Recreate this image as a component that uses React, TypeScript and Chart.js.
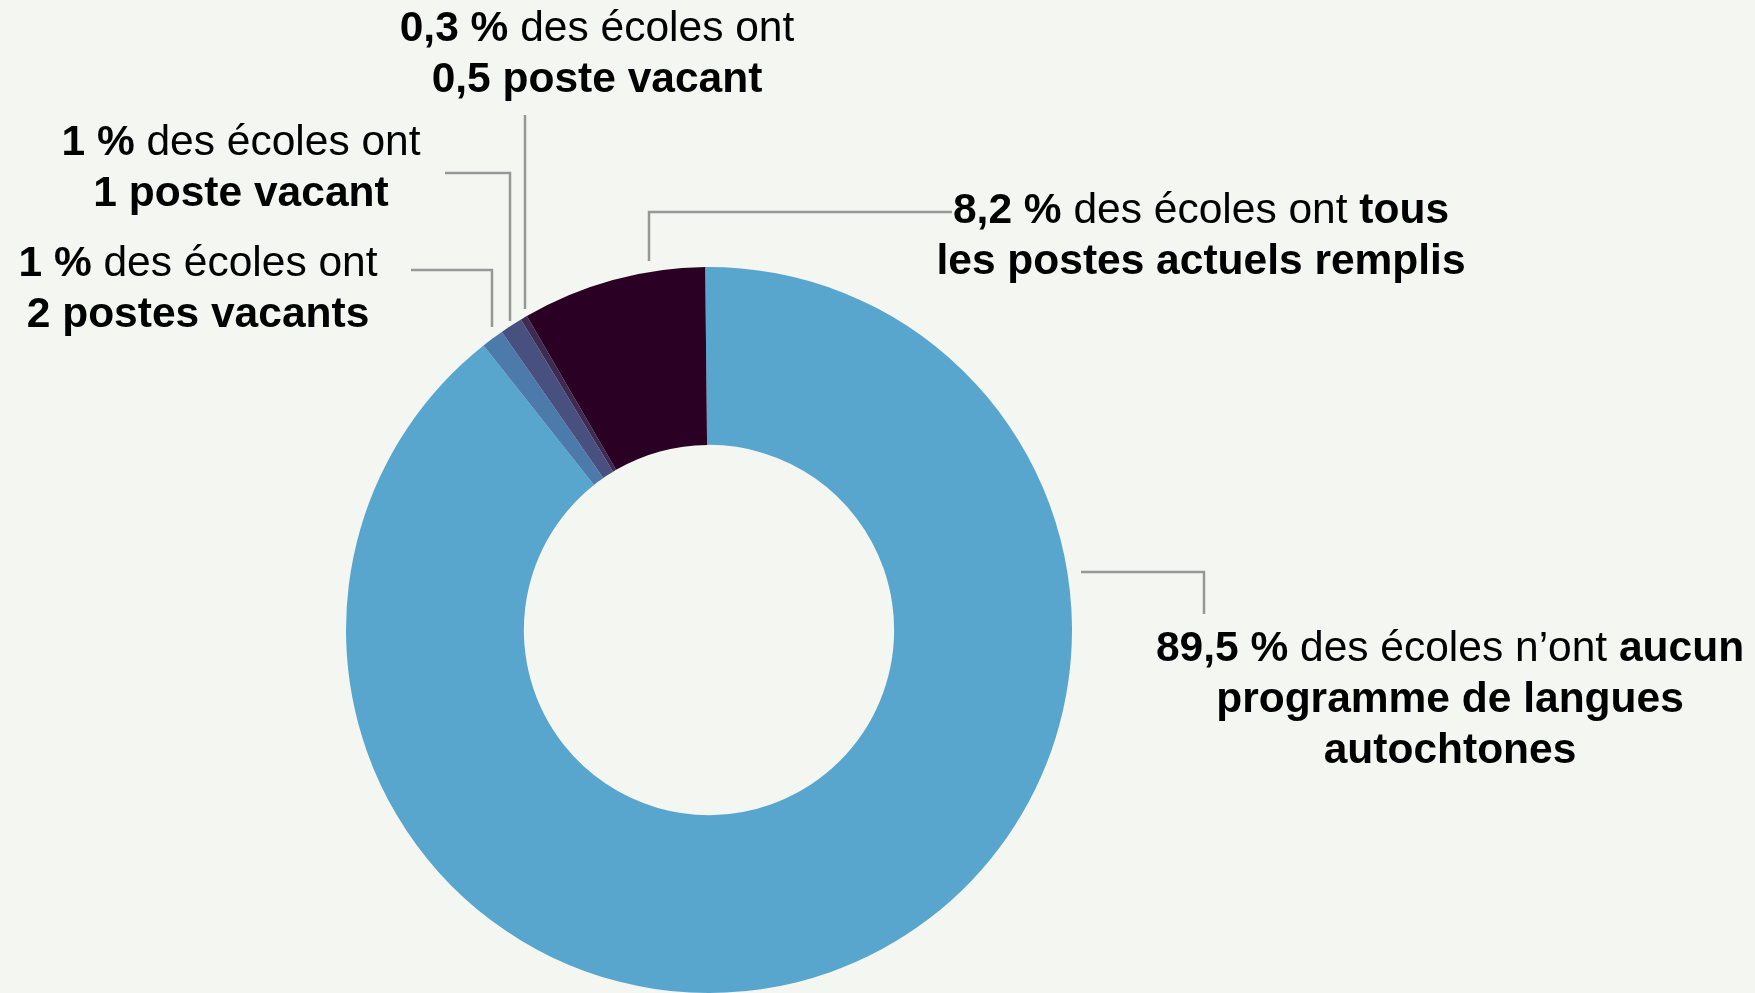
import React, { useEffect, useRef } from "react";
import { Chart, registerables } from "chart.js";

Chart.register(...registerables);

// ---- Data ----
const categories = [
  "Aucun programme de langues autochtones",
  "2 postes vacants",
  "1 poste vacant",
  "0,5 poste vacant",
  "Tous les postes actuels remplis",
];
const values = [89.5, 1, 1, 0.3, 8.2];
const colors = ["#58a6cd", "#4b7aab", "#48507f", "#3d2b52", "#2a0024"];

// Label text: each line is a list of [text, bold]
type Seg = [string, boolean];
const labelLines: Seg[][][] = [
  [
    [["89,5 %", true], [" des écoles n’ont ", false], ["aucun", true]],
    [["programme de langues", true]],
    [["autochtones", true]],
  ],
  [
    [["1 %", true], [" des écoles ont", false]],
    [["2 postes vacants", true]],
  ],
  [
    [["1 %", true], [" des écoles ont", false]],
    [["1 poste vacant", true]],
  ],
  [
    [["0,3 %", true], [" des écoles ont", false]],
    [["0,5 poste vacant", true]],
  ],
  [
    [["8,2 %", true], [" des écoles ont ", false], ["tous", true]],
    [["les postes actuels remplis", true]],
  ],
];

// ---- Layout (annotation positions, px) ----
const labelAnchors = [
  { x: 1450, y: 661 },
  { x: 198, y: 276 },
  { x: 241, y: 155 },
  { x: 597, y: 41 },
  { x: 1201, y: 223 },
];
const leaders: number[][][] = [
  [[1081, 572], [1204, 572], [1204, 614]],
  [[411, 270], [492, 270], [492, 327]],
  [[445, 173], [510, 173], [510, 321]],
  [[525, 115], [525, 309]],
  [[952, 212], [649, 212], [649, 261]],
];

const FONT_FAMILY = '"Liberation Sans", Arial, sans-serif';
const FONT_SIZE = 42.5;
const LINE_H = 51;
const BG = "#f4f6f1";

const labelPlugin = {
  id: "richLabels",
  afterDraw(chart: any) {
    const ctx: CanvasRenderingContext2D = chart.ctx;
    ctx.save();
    // leader lines
    ctx.strokeStyle = "#979797";
    ctx.lineWidth = 2.5;
    ctx.lineJoin = "miter";
    leaders.forEach((pts) => {
      ctx.beginPath();
      pts.forEach((p, i) => (i === 0 ? ctx.moveTo(p[0], p[1]) : ctx.lineTo(p[0], p[1])));
      ctx.stroke();
    });
    // labels
    ctx.fillStyle = "#000000";
    ctx.textBaseline = "alphabetic";
    ctx.textAlign = "left";
    labelLines.forEach((lines, li) => {
      const a = labelAnchors[li];
      lines.forEach((segs, k) => {
        let total = 0;
        const widths = segs.map(([t, b]) => {
          ctx.font = `${b ? "bold " : ""}${FONT_SIZE}px ${FONT_FAMILY}`;
          const w = ctx.measureText(t).width;
          total += w;
          return w;
        });
        let x = a.x - total / 2;
        const y = a.y + k * LINE_H;
        segs.forEach(([t, b], i) => {
          ctx.font = `${b ? "bold " : ""}${FONT_SIZE}px ${FONT_FAMILY}`;
          ctx.fillText(t, x, y);
          x += widths[i];
        });
      });
    });
    ctx.restore();
  },
};

export default function App() {
  const canvasRef = useRef<HTMLCanvasElement | null>(null);

  useEffect(() => {
    document.body.style.margin = "0";
    document.body.style.background = BG;
    const canvas = canvasRef.current;
    if (!canvas) return;
    const chart = new Chart(canvas, {
      type: "doughnut",
      data: {
        labels: categories,
        datasets: [
          {
            data: values,
            backgroundColor: colors,
            borderWidth: 0,
            hoverOffset: 0,
          },
        ],
      },
      options: {
        animation: false,
        responsive: true,
        maintainAspectRatio: false,
        cutout: "51%",
        rotation: -0.6,
        layout: { padding: { left: 346, right: 683, top: 267, bottom: 0 } },
        plugins: {
          legend: { display: false },
          tooltip: { enabled: false },
        },
      },
      plugins: [labelPlugin],
    });
    return () => chart.destroy();
  }, []);

  return (
    <div
      style={{
        position: "fixed",
        left: 0,
        top: 0,
        width: 1755,
        height: 993,
        background: BG,
      }}
    >
      <canvas ref={canvasRef} />
    </div>
  );
}
